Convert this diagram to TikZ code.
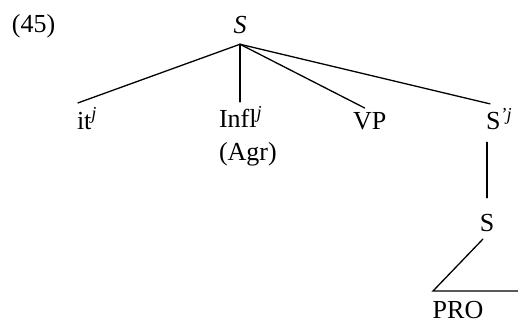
\documentclass[tikz,border=0pt]{standalone}
\usepackage{fontspec}
\setmainfont{Liberation Serif}
\usetikzlibrary{positioning}
\tikzset{
  cat/.style={inner sep=0pt, outer sep=5pt},
  branch/.style={line width=1.3pt, line cap=round},
}
\begin{document}
\begin{tikzpicture}[x=1pt, y=-1pt, font=\fontsize{26}{30}\selectfont]
\useasboundingbox (0,0) rectangle (518,323);
% example number
\node[cat, anchor=base west] (num) at (7,33) {(45)};
% root and daughters
\node[cat, anchor=base, outer sep=10pt] (root) at (240,34) {\textit{S}};
\node[cat, anchor=base west] (it)   at (72,129)  {it\textsuperscript{\textit{j}}};
\node[cat, anchor=base west] (infl) at (214,128) {Infl\textsuperscript{\textit{j}}};
\node[cat, anchor=base west] (agr)  at (214,160) {(Agr)};
\node[cat, anchor=base west] (vp)   at (348,130) {VP};
\node[cat, anchor=base west] (sbar) at (481,130) {S\textsuperscript{\textit{'j}}};
% embedded clause
\node[cat, anchor=base] (s2)  at (487,231) {S};
\node[cat, anchor=base] (pro) at (458,318) {PRO};
\coordinate (tri top)   at (483,239);
\coordinate (tri left)  at (433,291);
\coordinate (tri right) at (518,291);
% branches
\draw[branch] (root.south) -- (it.120);
\draw[branch] (root.south) -- (root.south |- infl.north);
\draw[branch] (root.south) -- (vp.110);
\draw[branch] (root.south) -- (sbar.120);
\draw[branch, shorten <=7pt, shorten >=11pt] (sbar.south -| s2.north) -- (s2.north);
\draw[branch] (tri top) -- (tri left) -- (tri right);
\end{tikzpicture}
\end{document}
